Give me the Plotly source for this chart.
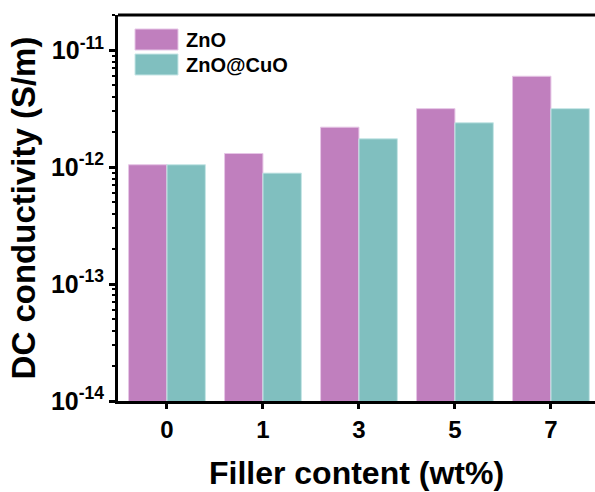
import plotly.graph_objects as go

categories = ["0", "1", "3", "5", "7"]
series_names = ["ZnO", "ZnO@CuO"]
zno = [1.05e-12, 1.31e-12, 2.2e-12, 3.17e-12, 6.0e-12]
zno_cuo = [1.05e-12, 0.89e-12, 1.75e-12, 2.4e-12, 3.17e-12]
colors = ["#C07FBE", "#80BFBF"]
edge_colors = ["#E6C6E6", "#C6E6E6"]
y_tickvals = [1e-14, 1e-13, 1e-12, 1e-11]
y_ticktext = ["<b>10<sup>-14</sup></b>", "<b>10<sup>-13</sup></b>",
              "<b>10<sup>-12</sup></b>", "<b>10<sup>-11</sup></b>"]
minor_vals = [m * 10.0 ** e for e in (-14, -13, -12, -11) for m in range(2, 10)]

W, H = 595, 492
ml, mt, mb, mr = 118, 15, 91, 0

fig = go.Figure()
for name, vals, c, ec in zip(series_names, [zno, zno_cuo], colors, edge_colors):
    fig.add_trace(go.Bar(x=categories, y=vals, name=name,
                         marker=dict(color=c, line=dict(color=ec, width=1))))

font_family = "Arial, Liberation Sans, sans-serif"
fig.update_layout(
    width=W, height=H,
    margin=dict(l=ml, r=mr, t=mt, b=mb, pad=0),
    paper_bgcolor="white", plot_bgcolor="white",
    barmode="group", bargap=0.2, bargroupgap=0,
    showlegend=False,
    font=dict(family=font_family, color="black"),
)
fig.update_xaxes(
    type="category", range=[-0.51, 4.459],
    showline=True, linecolor="black", linewidth=3,
    ticks="outside", ticklen=5, tickwidth=3, tickcolor="black",
    tickvals=categories, ticktext=["<b>%s</b>" % c for c in categories],
    tickfont=dict(size=24, family=font_family),
    showgrid=False, zeroline=False,
    title=dict(text="<b>Filler content (wt%)</b>", font=dict(size=32, family=font_family), standoff=20),
)
fig.update_yaxes(
    type="log", range=[-14, -10.698],
    showline=True, linecolor="black", linewidth=3,
    ticks="outside", ticklen=6, tickwidth=3, tickcolor="black",
    tickmode="array", tickvals=y_tickvals, ticktext=y_ticktext,
    tickfont=dict(size=25, family=font_family),
    minor=dict(tickmode="array", tickvals=minor_vals, ticks="outside", ticklen=3, tickwidth=2, tickcolor="black"),
    showgrid=False, zeroline=False,
    title=dict(text="<b>DC conductivity (S/m)</b>", font=dict(size=33, family=font_family), standoff=6),
)

# top frame line
fig.add_shape(type="line", xref="paper", yref="paper", x0=0, x1=1, y0=1, y1=1,
              line=dict(color="black", width=3))

# legend drawn as swatches + labels
pw = W - ml - mr
ph = H - mt - mb
def px_x(x):
    return (x - ml) / pw
def px_y(y):
    return 1 - (y - mt) / ph
for i, (name, c, ec) in enumerate(zip(series_names, colors, edge_colors)):
    y0 = 29 + i * 25
    fig.add_shape(type="rect", xref="paper", yref="paper",
                  x0=px_x(135), x1=px_x(178), y0=px_y(y0 + 21), y1=px_y(y0),
                  fillcolor=c, line=dict(color=ec, width=1))
    fig.add_annotation(xref="paper", yref="paper", x=px_x(184), y=px_y(y0 + 10.5),
                       text="<b>%s</b>" % name, showarrow=False, xanchor="left", yanchor="middle",
                       font=dict(size=20, family=font_family, color="black"))

fig.write_html("out.html")
